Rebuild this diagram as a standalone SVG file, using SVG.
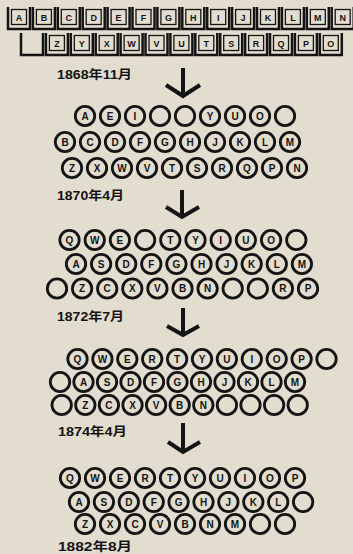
<svg xmlns="http://www.w3.org/2000/svg" xmlns:xlink="http://www.w3.org/1999/xlink" width="353" height="554" viewBox="0 0 353 554">
<style>
.bg{fill:#e3ddd0}
.ku{fill:none;stroke:#141414;stroke-width:2.5;stroke-linejoin:miter}
.kb{fill:none;stroke:#141414;stroke-width:1.3}
.kl{font-family:"Liberation Sans",Arial,sans-serif;font-weight:bold;font-size:9px;text-anchor:middle;fill:#141414}
.r{fill:none;stroke:#141414;stroke-width:2.8}
.cl{font-family:"Liberation Sans",Arial,sans-serif;font-weight:bold;font-size:10px;text-anchor:middle;fill:#141414}
.dt{font-family:"Liberation Sans","Noto Sans CJK JP",sans-serif;font-weight:bold;font-size:12px;fill:#141414}
.ar{fill:none;stroke:#141414;stroke-width:4;stroke-linecap:butt;stroke-linejoin:miter}
</style>
<defs>
<path id="k1" class="ku" d="M-11,7 V29 H11 V7"/>
<rect id="kbx" class="kb" x="-7.5" y="9.5" width="15" height="15"/>
<circle id="c" class="r" r="9.7"/>
</defs>
<rect class="bg" x="0" y="0" width="353" height="554"/>

<g id="keyboard-1867">
<g id="kb-row1">
<g transform="translate(19,0)"><use href="#k1"/><use href="#kbx"/><text class="kl" y="20.5">A</text></g>
<g transform="translate(43.9,0)"><use href="#k1"/><use href="#kbx"/><text class="kl" y="20.5">B</text></g>
<g transform="translate(68.8,0)"><use href="#k1"/><use href="#kbx"/><text class="kl" y="20.5">C</text></g>
<g transform="translate(93.7,0)"><use href="#k1"/><use href="#kbx"/><text class="kl" y="20.5">D</text></g>
<g transform="translate(118.6,0)"><use href="#k1"/><use href="#kbx"/><text class="kl" y="20.5">E</text></g>
<g transform="translate(143.5,0)"><use href="#k1"/><use href="#kbx"/><text class="kl" y="20.5">F</text></g>
<g transform="translate(168.4,0)"><use href="#k1"/><use href="#kbx"/><text class="kl" y="20.5">G</text></g>
<g transform="translate(193.3,0)"><use href="#k1"/><use href="#kbx"/><text class="kl" y="20.5">H</text></g>
<g transform="translate(218.2,0)"><use href="#k1"/><use href="#kbx"/><text class="kl" y="20.5">I</text></g>
<g transform="translate(243.1,0)"><use href="#k1"/><use href="#kbx"/><text class="kl" y="20.5">J</text></g>
<g transform="translate(268,0)"><use href="#k1"/><use href="#kbx"/><text class="kl" y="20.5">K</text></g>
<g transform="translate(292.9,0)"><use href="#k1"/><use href="#kbx"/><text class="kl" y="20.5">L</text></g>
<g transform="translate(317.8,0)"><use href="#k1"/><use href="#kbx"/><text class="kl" y="20.5">M</text></g>
<g transform="translate(342.7,0)"><use href="#k1"/><use href="#kbx"/><text class="kl" y="20.5">N</text></g>
</g>
<g id="kb-row2">
<g transform="translate(32,26)"><use href="#k1"/></g>
<g transform="translate(56.9,26)"><use href="#k1"/><use href="#kbx"/><text class="kl" y="20.5">Z</text></g>
<g transform="translate(81.8,26)"><use href="#k1"/><use href="#kbx"/><text class="kl" y="20.5">Y</text></g>
<g transform="translate(106.7,26)"><use href="#k1"/><use href="#kbx"/><text class="kl" y="20.5">X</text></g>
<g transform="translate(131.6,26)"><use href="#k1"/><use href="#kbx"/><text class="kl" y="20.5">W</text></g>
<g transform="translate(156.5,26)"><use href="#k1"/><use href="#kbx"/><text class="kl" y="20.5">V</text></g>
<g transform="translate(181.4,26)"><use href="#k1"/><use href="#kbx"/><text class="kl" y="20.5">U</text></g>
<g transform="translate(206.3,26)"><use href="#k1"/><use href="#kbx"/><text class="kl" y="20.5">T</text></g>
<g transform="translate(231.2,26)"><use href="#k1"/><use href="#kbx"/><text class="kl" y="20.5">S</text></g>
<g transform="translate(256.1,26)"><use href="#k1"/><use href="#kbx"/><text class="kl" y="20.5">R</text></g>
<g transform="translate(281,26)"><use href="#k1"/><use href="#kbx"/><text class="kl" y="20.5">Q</text></g>
<g transform="translate(305.9,26)"><use href="#k1"/><use href="#kbx"/><text class="kl" y="20.5">P</text></g>
<g transform="translate(330.8,26)"><use href="#k1"/><use href="#kbx"/><text class="kl" y="20.5">O</text></g>
</g>
</g>

<g id="layout-1868">
<text class="dt" x="57" y="79" textLength="75" lengthAdjust="spacingAndGlyphs">1868年11月</text>
<g id="l1868-r1" transform="translate(0,116)">
<g transform="translate(85,0)"><use href="#c"/><text class="cl" y="3.6">A</text></g>
<g transform="translate(110,0)"><use href="#c"/><text class="cl" y="3.6">E</text></g>
<g transform="translate(135,0)"><use href="#c"/><text class="cl" y="3.6">I</text></g>
<g transform="translate(160,0)"><use href="#c"/></g>
<g transform="translate(185,0)"><use href="#c"/></g>
<g transform="translate(210,0)"><use href="#c"/><text class="cl" y="3.6">Y</text></g>
<g transform="translate(235,0)"><use href="#c"/><text class="cl" y="3.6">U</text></g>
<g transform="translate(260,0)"><use href="#c"/><text class="cl" y="3.6">O</text></g>
<g transform="translate(285,0)"><use href="#c"/></g>
</g>
<g id="l1868-r2" transform="translate(0,142)">
<g transform="translate(65,0)"><use href="#c"/><text class="cl" y="3.6">B</text></g>
<g transform="translate(90,0)"><use href="#c"/><text class="cl" y="3.6">C</text></g>
<g transform="translate(115,0)"><use href="#c"/><text class="cl" y="3.6">D</text></g>
<g transform="translate(140,0)"><use href="#c"/><text class="cl" y="3.6">F</text></g>
<g transform="translate(165,0)"><use href="#c"/><text class="cl" y="3.6">G</text></g>
<g transform="translate(190,0)"><use href="#c"/><text class="cl" y="3.6">H</text></g>
<g transform="translate(215,0)"><use href="#c"/><text class="cl" y="3.6">J</text></g>
<g transform="translate(240,0)"><use href="#c"/><text class="cl" y="3.6">K</text></g>
<g transform="translate(265,0)"><use href="#c"/><text class="cl" y="3.6">L</text></g>
<g transform="translate(290,0)"><use href="#c"/><text class="cl" y="3.6">M</text></g>
</g>
<g id="l1868-r3" transform="translate(0,168)">
<g transform="translate(72,0)"><use href="#c"/><text class="cl" y="3.6">Z</text></g>
<g transform="translate(97,0)"><use href="#c"/><text class="cl" y="3.6">X</text></g>
<g transform="translate(122,0)"><use href="#c"/><text class="cl" y="3.6">W</text></g>
<g transform="translate(147,0)"><use href="#c"/><text class="cl" y="3.6">V</text></g>
<g transform="translate(172,0)"><use href="#c"/><text class="cl" y="3.6">T</text></g>
<g transform="translate(197,0)"><use href="#c"/><text class="cl" y="3.6">S</text></g>
<g transform="translate(222,0)"><use href="#c"/><text class="cl" y="3.6">R</text></g>
<g transform="translate(247,0)"><use href="#c"/><text class="cl" y="3.6">Q</text></g>
<g transform="translate(272,0)"><use href="#c"/><text class="cl" y="3.6">P</text></g>
<g transform="translate(297,0)"><use href="#c"/><text class="cl" y="3.6">N</text></g>
</g>
</g>

<g id="layout-1870">
<text class="dt" x="57" y="200" textLength="67" lengthAdjust="spacingAndGlyphs">1870年4月</text>
<g id="l1870-r1" transform="translate(0,240)">
<g transform="translate(69.5,0)"><use href="#c"/><text class="cl" y="3.6">Q</text></g>
<g transform="translate(94.7,0)"><use href="#c"/><text class="cl" y="3.6">W</text></g>
<g transform="translate(119.9,0)"><use href="#c"/><text class="cl" y="3.6">E</text></g>
<g transform="translate(145.1,0)"><use href="#c"/></g>
<g transform="translate(170.3,0)"><use href="#c"/><text class="cl" y="3.6">T</text></g>
<g transform="translate(195.5,0)"><use href="#c"/><text class="cl" y="3.6">Y</text></g>
<g transform="translate(220.7,0)"><use href="#c"/><text class="cl" y="3.6">I</text></g>
<g transform="translate(245.9,0)"><use href="#c"/><text class="cl" y="3.6">U</text></g>
<g transform="translate(271.1,0)"><use href="#c"/><text class="cl" y="3.6">O</text></g>
<g transform="translate(296.3,0)"><use href="#c"/></g>
</g>
<g id="l1870-r2" transform="translate(0,264)">
<g transform="translate(76,0)"><use href="#c"/><text class="cl" y="3.6">A</text></g>
<g transform="translate(101.1,0)"><use href="#c"/><text class="cl" y="3.6">S</text></g>
<g transform="translate(126.2,0)"><use href="#c"/><text class="cl" y="3.6">D</text></g>
<g transform="translate(151.3,0)"><use href="#c"/><text class="cl" y="3.6">F</text></g>
<g transform="translate(176.4,0)"><use href="#c"/><text class="cl" y="3.6">G</text></g>
<g transform="translate(201.5,0)"><use href="#c"/><text class="cl" y="3.6">H</text></g>
<g transform="translate(226.6,0)"><use href="#c"/><text class="cl" y="3.6">J</text></g>
<g transform="translate(251.7,0)"><use href="#c"/><text class="cl" y="3.6">K</text></g>
<g transform="translate(276.8,0)"><use href="#c"/><text class="cl" y="3.6">L</text></g>
<g transform="translate(301.9,0)"><use href="#c"/><text class="cl" y="3.6">M</text></g>
</g>
<g id="l1870-r3" transform="translate(0,288.5)">
<g transform="translate(57,0)"><use href="#c"/></g>
<g transform="translate(82.1,0)"><use href="#c"/><text class="cl" y="3.6">Z</text></g>
<g transform="translate(107.2,0)"><use href="#c"/><text class="cl" y="3.6">C</text></g>
<g transform="translate(132.3,0)"><use href="#c"/><text class="cl" y="3.6">X</text></g>
<g transform="translate(157.4,0)"><use href="#c"/><text class="cl" y="3.6">V</text></g>
<g transform="translate(182.5,0)"><use href="#c"/><text class="cl" y="3.6">B</text></g>
<g transform="translate(207.6,0)"><use href="#c"/><text class="cl" y="3.6">N</text></g>
<g transform="translate(232.7,0)"><use href="#c"/></g>
<g transform="translate(257.8,0)"><use href="#c"/></g>
<g transform="translate(282.9,0)"><use href="#c"/><text class="cl" y="3.6">R</text></g>
<g transform="translate(308,0)"><use href="#c"/><text class="cl" y="3.6">P</text></g>
</g>
</g>

<g id="layout-1872">
<text class="dt" x="57" y="321" textLength="67" lengthAdjust="spacingAndGlyphs">1872年7月</text>
<g id="l1872-r1" transform="translate(0,359)">
<g transform="translate(77.5,0)"><use href="#c"/><text class="cl" y="3.6">Q</text></g>
<g transform="translate(102.4,0)"><use href="#c"/><text class="cl" y="3.6">W</text></g>
<g transform="translate(127.3,0)"><use href="#c"/><text class="cl" y="3.6">E</text></g>
<g transform="translate(152.2,0)"><use href="#c"/><text class="cl" y="3.6">R</text></g>
<g transform="translate(177.1,0)"><use href="#c"/><text class="cl" y="3.6">T</text></g>
<g transform="translate(202,0)"><use href="#c"/><text class="cl" y="3.6">Y</text></g>
<g transform="translate(226.9,0)"><use href="#c"/><text class="cl" y="3.6">U</text></g>
<g transform="translate(251.8,0)"><use href="#c"/><text class="cl" y="3.6">I</text></g>
<g transform="translate(276.7,0)"><use href="#c"/><text class="cl" y="3.6">O</text></g>
<g transform="translate(301.6,0)"><use href="#c"/><text class="cl" y="3.6">P</text></g>
<g transform="translate(326.5,0)"><use href="#c"/></g>
</g>
<g id="l1872-r2" transform="translate(0,382)">
<g transform="translate(60,0)"><use href="#c"/></g>
<g transform="translate(83.5,0)"><use href="#c"/><text class="cl" y="3.6">A</text></g>
<g transform="translate(107,0)"><use href="#c"/><text class="cl" y="3.6">S</text></g>
<g transform="translate(130.5,0)"><use href="#c"/><text class="cl" y="3.6">D</text></g>
<g transform="translate(154,0)"><use href="#c"/><text class="cl" y="3.6">F</text></g>
<g transform="translate(177.5,0)"><use href="#c"/><text class="cl" y="3.6">G</text></g>
<g transform="translate(201,0)"><use href="#c"/><text class="cl" y="3.6">H</text></g>
<g transform="translate(224.5,0)"><use href="#c"/><text class="cl" y="3.6">J</text></g>
<g transform="translate(248,0)"><use href="#c"/><text class="cl" y="3.6">K</text></g>
<g transform="translate(271.5,0)"><use href="#c"/><text class="cl" y="3.6">L</text></g>
<g transform="translate(295,0)"><use href="#c"/><text class="cl" y="3.6">M</text></g>
</g>
<g id="l1872-r3" transform="translate(0,405)">
<g transform="translate(61.7,0)"><use href="#c"/></g>
<g transform="translate(85.3,0)"><use href="#c"/><text class="cl" y="3.6">Z</text></g>
<g transform="translate(108.9,0)"><use href="#c"/><text class="cl" y="3.6">C</text></g>
<g transform="translate(132.5,0)"><use href="#c"/><text class="cl" y="3.6">X</text></g>
<g transform="translate(156.1,0)"><use href="#c"/><text class="cl" y="3.6">V</text></g>
<g transform="translate(179.7,0)"><use href="#c"/><text class="cl" y="3.6">B</text></g>
<g transform="translate(203.3,0)"><use href="#c"/><text class="cl" y="3.6">N</text></g>
<g transform="translate(226.9,0)"><use href="#c"/></g>
<g transform="translate(250.5,0)"><use href="#c"/></g>
<g transform="translate(274.1,0)"><use href="#c"/></g>
<g transform="translate(297.7,0)"><use href="#c"/></g>
</g>
</g>

<g id="layout-1874">
<text class="dt" x="58" y="436" textLength="69" lengthAdjust="spacingAndGlyphs">1874年4月</text>
<g id="l1874-r1" transform="translate(0,478)">
<g transform="translate(70,0)"><use href="#c"/><text class="cl" y="3.6">Q</text></g>
<g transform="translate(95,0)"><use href="#c"/><text class="cl" y="3.6">W</text></g>
<g transform="translate(120,0)"><use href="#c"/><text class="cl" y="3.6">E</text></g>
<g transform="translate(145,0)"><use href="#c"/><text class="cl" y="3.6">R</text></g>
<g transform="translate(170,0)"><use href="#c"/><text class="cl" y="3.6">T</text></g>
<g transform="translate(195,0)"><use href="#c"/><text class="cl" y="3.6">Y</text></g>
<g transform="translate(220,0)"><use href="#c"/><text class="cl" y="3.6">U</text></g>
<g transform="translate(245,0)"><use href="#c"/><text class="cl" y="3.6">I</text></g>
<g transform="translate(270,0)"><use href="#c"/><text class="cl" y="3.6">O</text></g>
<g transform="translate(295,0)"><use href="#c"/><text class="cl" y="3.6">P</text></g>
</g>
<g id="l1874-r2" transform="translate(0,502)">
<g transform="translate(79,0)"><use href="#c"/><text class="cl" y="3.6">A</text></g>
<g transform="translate(103.9,0)"><use href="#c"/><text class="cl" y="3.6">S</text></g>
<g transform="translate(128.8,0)"><use href="#c"/><text class="cl" y="3.6">D</text></g>
<g transform="translate(153.7,0)"><use href="#c"/><text class="cl" y="3.6">F</text></g>
<g transform="translate(178.6,0)"><use href="#c"/><text class="cl" y="3.6">G</text></g>
<g transform="translate(203.5,0)"><use href="#c"/><text class="cl" y="3.6">H</text></g>
<g transform="translate(228.4,0)"><use href="#c"/><text class="cl" y="3.6">J</text></g>
<g transform="translate(253.3,0)"><use href="#c"/><text class="cl" y="3.6">K</text></g>
<g transform="translate(278.2,0)"><use href="#c"/><text class="cl" y="3.6">L</text></g>
<g transform="translate(303.1,0)"><use href="#c"/></g>
</g>
<g id="l1874-r3" transform="translate(0,524)">
<g transform="translate(85,0)"><use href="#c"/><text class="cl" y="3.6">Z</text></g>
<g transform="translate(110,0)"><use href="#c"/><text class="cl" y="3.6">X</text></g>
<g transform="translate(135,0)"><use href="#c"/><text class="cl" y="3.6">C</text></g>
<g transform="translate(160,0)"><use href="#c"/><text class="cl" y="3.6">V</text></g>
<g transform="translate(185,0)"><use href="#c"/><text class="cl" y="3.6">B</text></g>
<g transform="translate(210,0)"><use href="#c"/><text class="cl" y="3.6">N</text></g>
<g transform="translate(235,0)"><use href="#c"/><text class="cl" y="3.6">M</text></g>
<g transform="translate(260,0)"><use href="#c"/></g>
<g transform="translate(285,0)"><use href="#c"/></g>
</g>
<text class="dt" x="58" y="551" textLength="74" lengthAdjust="spacingAndGlyphs">1882年8月</text>
</g>

<g id="connectors">
<path class="ar" d="M183,68 V95 M166,85 L183,96 L200,85"/>
<path class="ar" d="M182,190 V216 M166,207 L182,217 L199,207"/>
<path class="ar" d="M183,308 V334 M167,326 L183,335 L199,326"/>
<path class="ar" d="M183,423 V451 M168,442 L183,452 L200,442"/>
</g>
</svg>
